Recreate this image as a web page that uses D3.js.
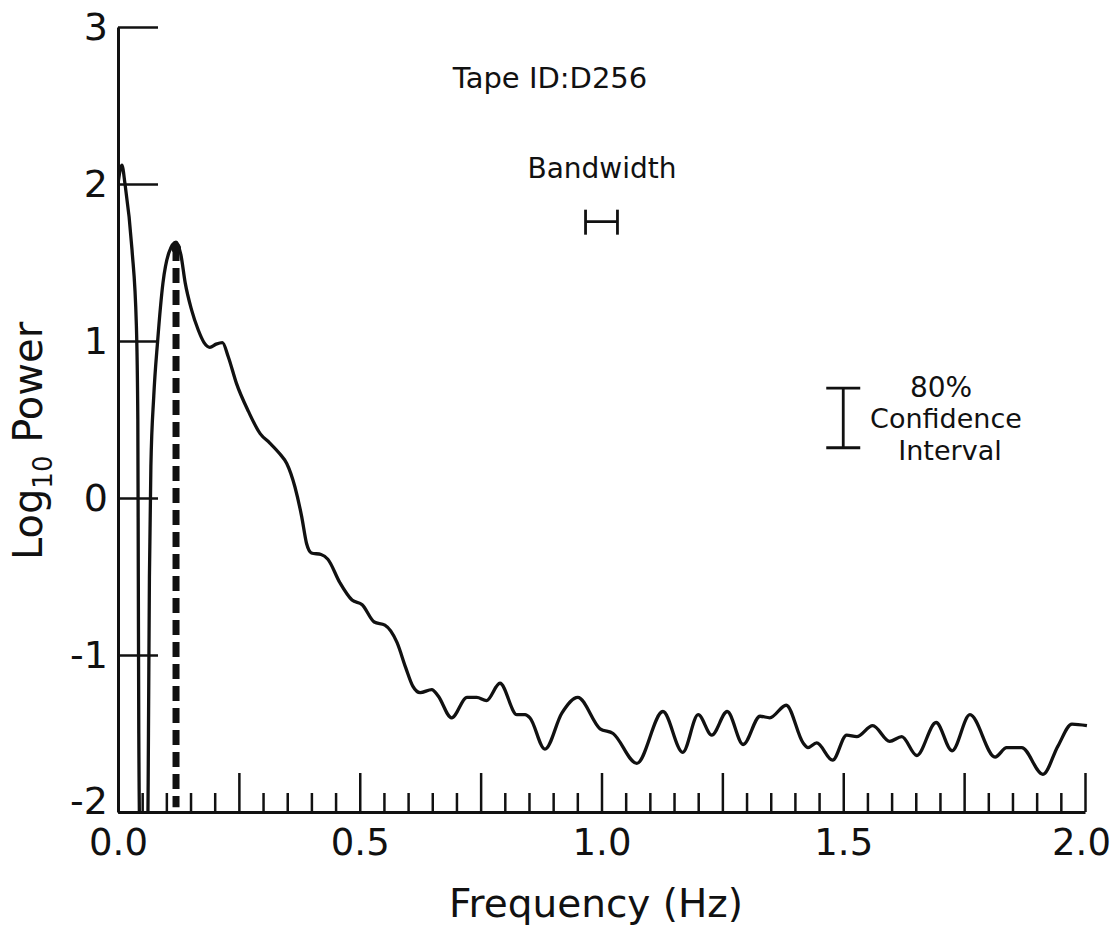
<!DOCTYPE html>
<html>
<head>
<meta charset="utf-8">
<script src="https://cdn.jsdelivr.net/npm/d3@7"></script>
<style>
  html, body { margin: 0; padding: 0; background: #fff; }
  svg { display: block; }
  text { font-family: "DejaVu Sans", sans-serif; fill: #111; }
</style>
</head>
<body>
<svg id="chart" width="1117" height="932"></svg>
<script>
// ---- data ----
const frequency = [0.000,0.008,0.0145,0.029,0.038,0.041,0.042,0.043,0.046,0.054,0.061,0.063,0.065,0.068,0.074,0.082,0.093,0.105,0.120,0.130,0.139,0.152,0.166,0.178,0.190,0.203,0.216,0.228,0.245,0.270,0.294,0.314,0.335,0.349,0.366,0.380,0.390,0.400,0.420,0.434,0.459,0.484,0.505,0.530,0.552,0.577,0.595,0.610,0.625,0.649,0.662,0.690,0.722,0.742,0.762,0.790,0.825,0.842,0.852,0.883,0.918,0.951,0.997,1.024,1.073,1.127,1.168,1.200,1.228,1.260,1.293,1.328,1.348,1.382,1.417,1.427,1.445,1.478,1.507,1.528,1.561,1.596,1.621,1.652,1.692,1.725,1.762,1.814,1.838,1.869,1.913,1.944,1.973,2.004];
const logPower = [2.00,2.12,2.00,1.58,1.10,0.50,-0.50,-1.50,-2.40,-3.00,-2.40,-1.50,-0.50,0.20,0.65,1.00,1.37,1.56,1.63,1.55,1.37,1.20,1.07,0.99,0.96,0.98,0.99,0.90,0.73,0.55,0.41,0.35,0.28,0.22,0.07,-0.12,-0.29,-0.35,-0.36,-0.39,-0.54,-0.65,-0.68,-0.79,-0.81,-0.92,-1.08,-1.20,-1.24,-1.22,-1.26,-1.40,-1.27,-1.27,-1.29,-1.18,-1.38,-1.38,-1.40,-1.60,-1.37,-1.27,-1.47,-1.50,-1.69,-1.36,-1.62,-1.38,-1.51,-1.36,-1.57,-1.39,-1.40,-1.32,-1.56,-1.59,-1.56,-1.67,-1.51,-1.52,-1.45,-1.55,-1.52,-1.64,-1.43,-1.61,-1.38,-1.65,-1.59,-1.59,-1.76,-1.58,-1.44,-1.45];
const peakFrequency = [0.12];
const peakValue = [1.63];
const xMajorTicks = [0, 0.25, 0.5, 0.75, 1.0, 1.25, 1.5, 1.75, 2.0];
const xMinorTicks = d3.range(0, 41).map(i => i * 0.05).filter(v => Math.abs((v / 0.25) - Math.round(v / 0.25)) > 1e-6);
const xTickLabels = ["0.0", "0.5", "1.0", "1.5", "2.0"];
const yTicks = [3, 2, 1, 0, -1, -2];
const yTickLabels = ["3", "2", "1", "0", "-1", "-2"];
const bandwidth = [1.0, 0.066, 1.76];      // centre freq, width (Hz), level
const confidence = [1.5, 0.32, 0.70];      // freq, low, high

// ---- layout ----
const svg = d3.select("#chart");
const x = d3.scaleLinear().domain([0, 2]).range([118, 1085]);
const y = d3.scaleLinear().domain([-2, 3]).range([812, 27]);

svg.append("rect").attr("width", 1117).attr("height", 932).attr("fill", "#fff");

svg.append("defs").append("clipPath").attr("id", "plotclip")
  .append("rect").attr("x", x(0)).attr("y", 0).attr("width", x(2.02) - x(0)).attr("height", y(-2) - 1);

// x axis
const gx = svg.append("g").attr("transform", `translate(0,${y(-2)})`);
gx.append("g").call(d3.axisBottom(x).tickValues(xMinorTicks).tickSizeInner(-19).tickSizeOuter(0).tickFormat(""))
  .call(g => g.select(".domain").remove())
  .call(g => g.selectAll("line").attr("stroke", "#111").attr("stroke-width", 2.5));
gx.append("g").call(d3.axisBottom(x).tickValues(xMajorTicks).tickSizeInner(-39).tickSizeOuter(0).tickFormat(""))
  .call(g => g.select(".domain").attr("stroke", "#111").attr("stroke-width", 3))
  .call(g => g.selectAll("line").attr("stroke", "#111").attr("stroke-width", 2.5));
gx.append("g").call(d3.axisBottom(x).tickValues(xTickLabels.map(Number)).tickSize(0).tickPadding(17)
    .tickFormat((d, i) => xTickLabels[i]))
  .call(g => g.select(".domain").remove())
  .call(g => g.selectAll("text").attr("font-size", 37).attr("font-family", "DejaVu Sans").attr("fill", "#111"))
  .call(g => g.selectAll(".tick").filter(d => d === 2).select("text").attr("dx", -4));

// y axis
const gy = svg.append("g").attr("transform", `translate(${x(0)},0)`);
gy.call(d3.axisLeft(y).tickValues(yTicks).tickSizeInner(-40).tickSizeOuter(0).tickPadding(10)
    .tickFormat((d, i) => yTickLabels[i]))
  .call(g => g.select(".domain").attr("stroke", "#111").attr("stroke-width", 3))
  .call(g => g.selectAll("line").attr("stroke", "#111").attr("stroke-width", 2.5))
  .call(g => g.selectAll("text").attr("font-size", 38).attr("font-family", "DejaVu Sans").attr("fill", "#111"))
  .call(g => g.selectAll(".tick").filter(d => d === -2).select("text").attr("dy", "0.05em"));

// spectrum curve
const pts = frequency.map((f, i) => [f, logPower[i]]);
const line = d3.line().x(d => x(d[0])).y(d => y(d[1])).curve(d3.curveMonotoneX);
svg.append("path").datum(pts)
  .attr("clip-path", "url(#plotclip)")
  .attr("d", line)
  .attr("fill", "none").attr("stroke", "#111").attr("stroke-width", 3.3)
  .attr("stroke-linejoin", "round");

// dashed peak marker
svg.selectAll(".peak").data(peakFrequency).enter().append("line")
  .attr("x1", d => x(d)).attr("x2", d => x(d))
  .attr("y1", (d, i) => y(peakValue[i]) + 4).attr("y2", y(-1.97))
  .attr("stroke", "#111").attr("stroke-width", 7).attr("stroke-dasharray", "15,7");
svg.selectAll(".peakdot").data(peakFrequency).enter().append("circle")
  .attr("cx", d => x(d)).attr("cy", (d, i) => y(peakValue[i]) + 6).attr("r", 5).attr("fill", "#111");

// bandwidth bar
const bw0 = x(bandwidth[0] - bandwidth[1] / 2), bw1 = x(bandwidth[0] + bandwidth[1] / 2), bwy = y(bandwidth[2]);
const bwg = svg.append("g").attr("stroke", "#111").attr("stroke-width", 2.8);
bwg.append("line").attr("x1", bw0).attr("x2", bw1).attr("y1", bwy).attr("y2", bwy);
bwg.append("line").attr("x1", bw0).attr("x2", bw0).attr("y1", bwy - 12).attr("y2", bwy + 13);
bwg.append("line").attr("x1", bw1).attr("x2", bw1).attr("y1", bwy - 12).attr("y2", bwy + 13);

// confidence interval bar
const cx = x(confidence[0]), cyl = y(confidence[1]), cyh = y(confidence[2]);
const cig = svg.append("g").attr("stroke", "#111").attr("stroke-width", 2.8);
cig.append("line").attr("x1", cx).attr("x2", cx).attr("y1", cyh).attr("y2", cyl);
cig.append("line").attr("x1", cx - 17).attr("x2", cx + 17).attr("y1", cyh).attr("y2", cyh);
cig.append("line").attr("x1", cx - 17).attr("x2", cx + 17).attr("y1", cyl).attr("y2", cyl);

// texts
const annot = [
  ["Tape ID:D256", 550, 88, 29],
  ["Bandwidth", 602, 178, 28],
  ["80%", 941, 397, 28],
  ["Confidence", 946, 428, 27],
  ["Interval", 950, 460, 27]
];
svg.selectAll(".annot").data(annot).enter().append("text")
  .attr("x", d => d[1]).attr("y", d => d[2]).attr("font-size", d => d[3])
  .attr("text-anchor", "middle").text(d => d[0]);

svg.append("text").attr("x", 596).attr("y", 917).attr("font-size", 39)
  .attr("text-anchor", "middle").text("Frequency (Hz)");

const yl = svg.append("text").attr("transform", "translate(42,441) rotate(-90)")
  .attr("text-anchor", "middle").attr("font-size", 40);
yl.append("tspan").text("Log");
yl.append("tspan").attr("font-size", 26).attr("dy", 10).text("10");
yl.append("tspan").attr("dy", -10).text(" Power");
</script>
</body>
</html>
